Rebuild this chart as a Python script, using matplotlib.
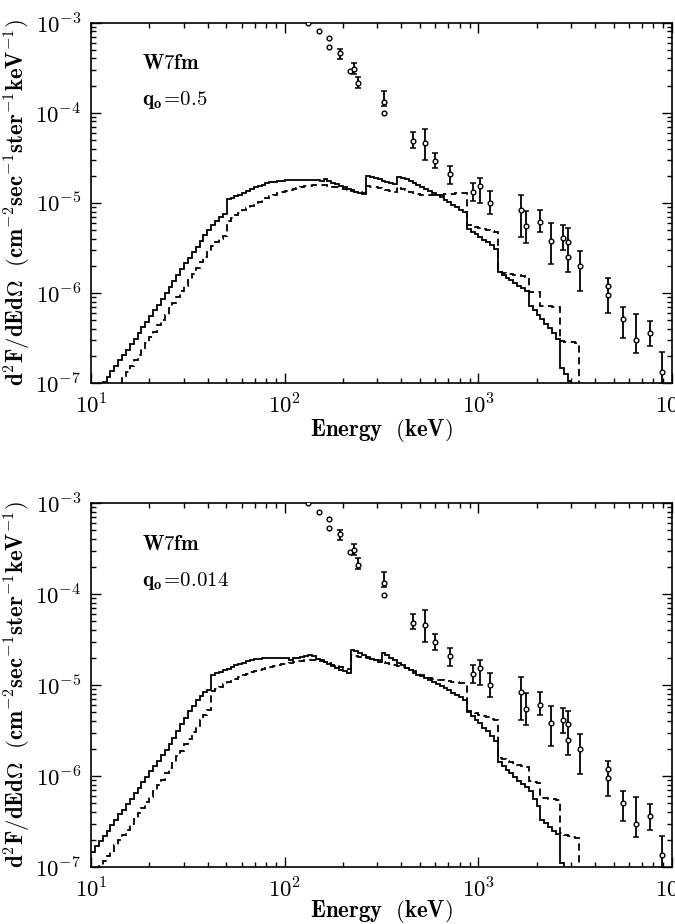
import numpy as np
import matplotlib
matplotlib.use("Agg")
import matplotlib.pyplot as plt
from matplotlib.ticker import NullFormatter, LogLocator

plt.rcParams['mathtext.fontset'] = 'cm'
plt.rcParams['font.family'] = 'serif'

# histogram bins: 0.02 dex wide, starting at 10 keV
BIN_DEX = 0.02
E_START = 10.0

# model spectra, log10 flux per bin
# top panel, q0 = 0.5
top_solid = [
    -7.17, -7.11, -7.05, -6.99, -6.93, -6.87, -6.81, -6.75, -6.69, -6.63,
    -6.57, -6.51, -6.45, -6.38, -6.32, -6.26, -6.19, -6.13, -6.07, -6.00,
    -5.94, -5.87, -5.80, -5.74, -5.67, -5.61, -5.55, -5.49, -5.42, -5.36,
    -5.30, -5.25, -5.20, -5.16, -5.13,
    -4.96, -4.95, -4.93, -4.91, -4.89, -4.87, -4.85, -4.83, -4.81, -4.80,
    -4.785, -4.77, -4.765, -4.76, -4.755, -4.75, -4.75, -4.75, -4.745, -4.745,
    -4.745, -4.745, -4.75, -4.75, -4.755, -4.735, -4.76, -4.78, -4.795, -4.81,
    -4.83, -4.845, -4.86, -4.875, -4.89, -4.905,
    -4.70, -4.715, -4.73, -4.74, -4.755, -4.77, -4.78, -4.795,
    -4.71, -4.725, -4.74, -4.76, -4.78, -4.80, -4.82, -4.845, -4.87, -4.89,
    -4.915, -4.94, -4.965, -4.99, -5.02, -5.05, -5.075, -5.105,
    -5.29, -5.32, -5.35, -5.38, -5.41, -5.44, -5.47, -5.51,
    -5.77, -5.80, -5.83, -5.86, -5.89, -5.92, -5.95, -5.98,
    -6.14, -6.19, -6.24, -6.29, -6.34, -6.39, -6.45, -6.51,
    -6.83, -6.90, -6.98, -7.30,
]
top_dashed = [
    -7.45, -7.39, -7.33, -7.26, -7.20, -7.13, -7.07, -7.01, -6.94, -6.88,
    -6.81, -6.75, -6.69, -6.62, -6.56, -6.49, -6.43, -6.36, -6.30, -6.24,
    -6.17, -6.11, -6.05, -5.98, -5.92, -5.85, -5.79, -5.72, -5.66, -5.60,
    -5.54, -5.48, -5.43, -5.40, -5.37,
    -5.20, -5.17, -5.14, -5.11, -5.08, -5.06, -5.04, -5.01, -4.99, -4.97,
    -4.95, -4.93, -4.91, -4.895, -4.88, -4.87, -4.86, -4.85, -4.835, -4.825,
    -4.815, -4.81, -4.80, -4.80, -4.80, -4.805, -4.81, -4.82, -4.83, -4.84,
    -4.845, -4.855, -4.865, -4.875, -4.885, -4.895,
    -4.81, -4.82, -4.83, -4.84, -4.85, -4.86, -4.87, -4.88,
    -4.83, -4.845, -4.86, -4.875, -4.89, -4.90, -4.91, -4.915, -4.915, -4.915,
    -4.91, -4.91, -4.905, -4.905, -4.90, -4.895, -4.895, -4.89,
    -5.25, -5.26, -5.27, -5.28, -5.29, -5.30, -5.31, -5.32,
    -5.77, -5.78, -5.785, -5.79, -5.80, -5.805, -5.81, -5.82,
    -5.99, -5.99, -5.99,
    -6.15, -6.15, -6.15, -6.155, -6.16,
    -6.53, -6.54, -6.545, -6.55, -6.56,
    -7.50,
]

# bottom panel, q0 = 0.014
bot_solid = [
    -6.83, -6.77, -6.71, -6.66, -6.60, -6.54, -6.48, -6.42, -6.37, -6.31,
    -6.25, -6.19, -6.13, -6.07, -6.01, -5.95, -5.89, -5.83, -5.77, -5.71,
    -5.65, -5.58, -5.51, -5.43, -5.36, -5.29, -5.23, -5.17, -5.12, -5.08,
    -5.06,
    -4.89, -4.87, -4.855, -4.84, -4.82, -4.80, -4.785, -4.77, -4.755, -4.74,
    -4.725, -4.715, -4.71, -4.705, -4.70, -4.70, -4.70, -4.70, -4.70, -4.705,
    -4.72, -4.705, -4.70, -4.69, -4.68, -4.665, -4.685, -4.71, -4.73, -4.75,
    -4.77, -4.79, -4.81, -4.83, -4.85, -4.865,
    -4.61, -4.63, -4.65, -4.67, -4.69, -4.71, -4.725, -4.745,
    -4.65, -4.675, -4.70, -4.73, -4.755, -4.78, -4.81, -4.84, -4.865, -4.885,
    -4.905, -4.925, -4.945, -4.965, -4.99, -5.01, -5.035, -5.06, -5.085, -5.11,
    -5.135, -5.16,
    -5.30, -5.34, -5.38, -5.42, -5.47, -5.51, -5.56, -5.61,
    -5.85, -5.89, -5.93, -5.97, -6.01, -6.05, -6.09, -6.12,
    -6.17, -6.25, -6.33, -6.48, -6.52, -6.56, -6.60, -6.64,
    -6.96, -7.30,
]
bot_dashed = [
    -7.10, -7.05, -6.99, -6.93, -6.88, -6.82, -6.76, -6.70, -6.65, -6.59,
    -6.53, -6.47, -6.41, -6.35, -6.29, -6.23, -6.16, -6.10, -6.04, -5.97,
    -5.91, -5.85, -5.78, -5.72, -5.65, -5.59, -5.52, -5.46, -5.39, -5.33,
    -5.27,
    -5.07, -5.04, -5.02, -4.99, -4.97, -4.95, -4.93, -4.91, -4.89, -4.875,
    -4.86, -4.845, -4.83, -4.82, -4.81, -4.80, -4.79, -4.78, -4.77, -4.765,
    -4.755, -4.75, -4.74, -4.735, -4.73, -4.725, -4.725, -4.73, -4.74, -4.75,
    -4.76, -4.775, -4.79, -4.80, -4.815, -4.825,
    -4.67, -4.68, -4.69, -4.70, -4.705, -4.71, -4.72, -4.73,
    -4.75, -4.76, -4.77, -4.78, -4.79, -4.80, -4.815, -4.83, -4.85, -4.87,
    -4.89, -4.905, -4.92, -4.935, -4.945, -4.95, -4.955, -4.96, -4.965, -4.97,
    -4.975, -4.98,
    -5.29, -5.30, -5.31, -5.325, -5.34, -5.355, -5.37, -5.385,
    -5.80, -5.815, -5.83, -5.845, -5.86, -5.875, -5.89, -5.90,
    -6.06, -6.07, -6.08,
    -6.24, -6.245, -6.25, -6.255, -6.26,
    -6.63, -6.645, -6.66, -6.67, -6.685,
    -7.50,
]

# observed points (keV, flux) with error bounds; nan = no bar drawn
obs_E = [132, 150, 169, 169, 192, 216, 228, 240, 324, 324,
         457, 531, 600, 714, 939, 1016, 1148, 1667, 1762, 2090,
         2371, 2742, 2886, 2886, 3365, 4645, 4645, 5546, 6476, 7710, 8920]
obs_F = [1.0e-3, 8.05e-4, 6.73e-4, 5.35e-4, 4.58e-4, 2.89e-4, 3.02e-4, 2.11e-4, 1.32e-4, 9.8e-5,
         4.8e-5, 4.6e-5, 2.94e-5, 2.06e-5, 1.32e-5, 1.54e-5, 1.0e-5, 8.3e-6, 5.5e-6, 6.1e-6,
         3.8e-6, 4.1e-6, 3.7e-6, 2.5e-6, 2.0e-6, 1.2e-6, 9.5e-7, 5.1e-7, 3.0e-7, 3.6e-7, 1.34e-7]
obs_hi = [np.nan, np.nan, np.nan, np.nan, 5.08e-4, np.nan, 3.52e-4, 2.50e-4, 1.75e-4, np.nan,
          6.1e-5, 6.6e-5, 3.6e-5, 2.57e-5, 1.66e-5, 1.88e-5, 1.36e-5, 1.23e-5, 8.1e-6, 8.3e-6,
          5.9e-6, 5.6e-6, 5.2e-6, np.nan, 2.9e-6, 1.46e-6, np.nan, 6.9e-7, 5.9e-7, 4.9e-7, 2.2e-7]
obs_lo = [np.nan, np.nan, np.nan, np.nan, 3.93e-4, np.nan, 2.70e-4, 1.86e-4, 1.18e-4, np.nan,
          4.1e-5, 2.96e-5, 2.44e-5, 1.61e-5, 1.04e-5, 9.95e-6, 7.45e-6, 4.17e-6, 3.6e-6, 4.74e-6,
          2.11e-6, 2.96e-6, 1.70e-6, np.nan, 1.04e-6, 5.97e-7, np.nan, 3.18e-7, 2.14e-7, 2.56e-7, 9.8e-8]

x_ticks = [10, 100, 1000, 10000]
x_ticklabels = [r'$\mathbf{10^{1}}$', r'$\mathbf{10^{2}}$', r'$\mathbf{10^{3}}$', r'$\mathbf{10^{4}}$']
y_ticks = [1e-7, 1e-6, 1e-5, 1e-4, 1e-3]
y_ticklabels = [r'$\mathbf{10^{-7}}$', r'$\mathbf{10^{-6}}$', r'$\mathbf{10^{-5}}$',
                r'$\mathbf{10^{-4}}$', r'$\mathbf{10^{-3}}$']

panels = [
    ("W7fm", r"$\mathbf{q_o\!=\!0.5}$", top_solid, top_dashed, 0),
    ("W7fm", r"$\mathbf{q_o\!=\!0.014}$", bot_solid, bot_dashed, -2),
]


def bin_edges(n):
    "log-spaced bin edges for n bins"
    return E_START * 10 ** (BIN_DEX * np.arange(n + 1))


def draw_panel(ax, model, q_text, solid, dashed, xpad):
    ax.stairs(10 ** np.array(solid), bin_edges(len(solid)), baseline=None,
              color='black', lw=1.3)
    ax.stairs(10 ** np.array(dashed), bin_edges(len(dashed)), baseline=None,
              color='black', lw=1.3, linestyle=(0, (4, 2.5)))

    E = np.array(obs_E, float)
    F = np.array(obs_F)
    hi = np.array(obs_hi)
    lo = np.array(obs_lo)
    has_bar = ~np.isnan(hi)
    ax.errorbar(E[has_bar], F[has_bar],
                yerr=[F[has_bar] - lo[has_bar], hi[has_bar] - F[has_bar]],
                fmt='none', ecolor='black', elinewidth=1.3, capsize=2.5, capthick=1.1)
    ax.plot(E, F, 'o', ms=3.4, mfc='white', mec='black', mew=1.0, zorder=5)

    ax.set_xscale('log')
    ax.set_yscale('log')
    ax.set_xlim(10, 10000)
    ax.set_ylim(1e-7, 1e-3)
    ax.set_xticks(x_ticks)
    ax.set_xticklabels(x_ticklabels)
    ax.set_yticks(y_ticks)
    ax.set_yticklabels(y_ticklabels)
    ax.xaxis.set_minor_locator(LogLocator(base=10, subs=np.arange(2, 10)))
    ax.yaxis.set_minor_locator(LogLocator(base=10, subs=np.arange(2, 10)))
    ax.xaxis.set_minor_formatter(NullFormatter())
    ax.yaxis.set_minor_formatter(NullFormatter())
    ax.tick_params(which='both', direction='in', top=True, right=True,
                   width=1.0, labelsize=16.5)
    ax.tick_params(which='major', length=7, pad=7)
    ax.tick_params(which='minor', length=3.8)
    for s in ax.spines.values():
        s.set_linewidth(1.2)

    ax.set_xlabel(r'$\mathbf{Energy\ \ (keV)}$', fontsize=16.5, labelpad=xpad)
    ax.set_ylabel(r'$\mathbf{d^2F/dEd\Omega\ \ (cm^{-2}sec^{-1}ster^{-1}keV^{-1})}$',
                  fontsize=16.5, labelpad=2)
    ax.text(0.088, 0.885, r'$\mathbf{' + model + '}$', transform=ax.transAxes,
            fontsize=15, va='center', ha='left')
    ax.text(0.088, 0.785, q_text, transform=ax.transAxes,
            fontsize=15, va='center', ha='left')


fig = plt.figure(figsize=(6.75, 9.24), dpi=100)
ax1 = fig.add_axes([0.135, 0.5855, 0.8607, 0.3901])
ax2 = fig.add_axes([0.135, 0.0617, 0.8607, 0.3939])

for ax, (model, q_text, solid, dashed, xpad) in zip([ax1, ax2], panels):
    draw_panel(ax, model, q_text, solid, dashed, xpad)

fig.savefig('out.png', dpi=100)
